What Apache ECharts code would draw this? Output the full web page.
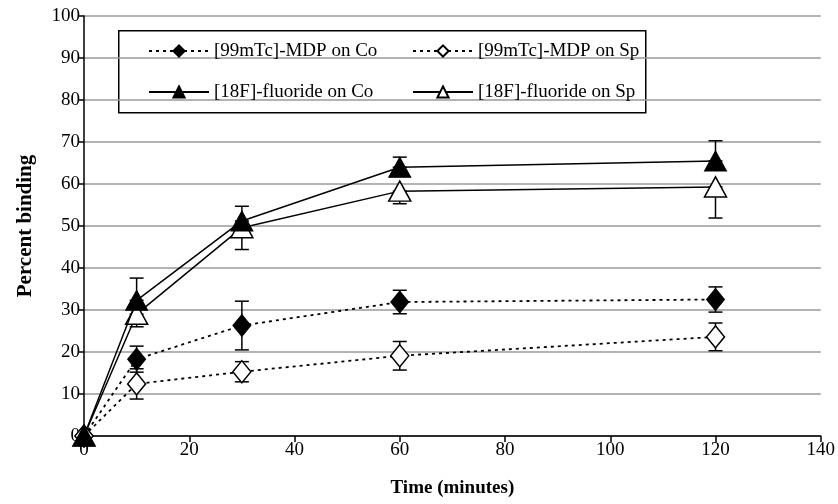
<!DOCTYPE html>
<html>
<head>
<meta charset="utf-8">
<script src="https://cdn.jsdelivr.net/npm/echarts@6/dist/echarts.min.js"></script>
<style>html,body{margin:0;padding:0;background:#fff;}#c{width:838px;height:504px;}</style>
</head>
<body>
<div id="c"></div>
<script>
var times = [0, 10, 30, 60, 120];
var mdpCo = [0, 18.3, 26.3, 31.9, 32.5];
var mdpCoErr = [null, 3.1, 5.8, 2.8, 3.0];
var mdpSp = [0, 12.4, 15.3, 19.1, 23.6];
var mdpSpErr = [null, 3.6, 2.4, 3.4, 3.3];
var fCo = [0, 32.3, 51.2, 64.0, 65.5];
var fCoErrUp = [null, 5.3, 3.5, 2.4, 4.8];
var fSp = [0, 29.0, 49.6, 58.3, 59.3];
var fSpErrDown = [null, 3.0, 5.2, 3.0, 7.4];
var names = ['[99mTc]-MDP on Co', '[99mTc]-MDP on Sp', '[18F]-fluoride on Co', '[18F]-fluoride on Sp'];
var xTicks = [0, 20, 40, 60, 80, 100, 120, 140];
var yTicks = [0, 10, 20, 30, 40, 50, 60, 70, 80, 90, 100];

var FONT = '"Liberation Serif", "DejaVu Serif", serif';

function pts(vals) { return times.map(function (t, i) { return [t, vals[i]]; }); }
function errData(vals, up, down) {
  var out = [];
  times.forEach(function (t, i) {
    var u = up ? up[i] : null, d = down ? down[i] : null;
    if (u == null && d == null) return;
    out.push([t, vals[i] - (d || 0), vals[i] + (u || 0)]);
  });
  return out;
}
function errSeries(data) {
  return {
    type: 'custom', silent: true, z: 1,
    renderItem: function (params, api) {
      var x = api.value(0), lo = api.value(1), hi = api.value(2);
      var pLo = api.coord([x, lo]), pHi = api.coord([x, hi]);
      var w = 7;
      var st = { stroke: '#000', lineWidth: 1.5 };
      return { type: 'group', children: [
        { type: 'line', shape: { x1: pLo[0], y1: pLo[1], x2: pHi[0], y2: pHi[1] }, style: st },
        { type: 'line', shape: { x1: pLo[0] - w, y1: pLo[1], x2: pLo[0] + w, y2: pLo[1] }, style: st },
        { type: 'line', shape: { x1: pHi[0] - w, y1: pHi[1], x2: pHi[0] + w, y2: pHi[1] }, style: st }
      ]};
    },
    encode: { x: 0, y: [1, 2] },
    data: data
  };
}

var legendCommon = {
  orient: 'vertical', top: 36.5, itemGap: 22, itemWidth: 60, itemHeight: 14,
  backgroundColor: 'transparent',
  textStyle: { fontFamily: FONT, fontSize: 19, color: '#000' }
};

var chart = echarts.init(document.getElementById('c'));
chart.setOption({
  animation: false,
  backgroundColor: '#fff',
  grid: { left: 84, right: 12, top: 16, bottom: 68 },
  xAxis: {
    type: 'value', min: 0, max: 140, interval: 20,
    name: 'Time (minutes)', nameLocation: 'middle', nameGap: 43,
    nameTextStyle: { fontFamily: FONT, fontSize: 19, fontWeight: 'bold', color: '#000' },
    axisLine: { lineStyle: { color: '#000', width: 1.5 } },
    axisTick: { show: true, length: 6, lineStyle: { color: '#000', width: 1.5 } },
    axisLabel: { fontFamily: FONT, fontSize: 19, color: '#000', margin: 5,
      formatter: function (v) { return xTicks.indexOf(v) >= 0 ? String(v) : ''; } },
    splitLine: { show: false }
  },
  yAxis: {
    type: 'value', min: 0, max: 100, interval: 10,
    name: 'Percent binding', nameLocation: 'middle', nameGap: 48,
    nameTextStyle: { fontFamily: FONT, fontSize: 21, fontWeight: 'bold', color: '#000' },
    axisLine: { show: true, lineStyle: { color: '#000', width: 1.5 } },
    axisTick: { show: true, length: 6, lineStyle: { color: '#000', width: 1.5 } },
    axisLabel: { fontFamily: FONT, fontSize: 19, color: '#000', margin: 4,
      formatter: function (v) { return yTicks.indexOf(v) >= 0 ? String(v) : ''; } },
    splitLine: { show: true, lineStyle: { color: '#9a9a9a', width: 1.5 } }
  },
  legend: [
    Object.assign({ data: [names[0], names[2]], left: 143 }, legendCommon),
    Object.assign({ data: [names[1], names[3]], left: 407 }, legendCommon)
  ],
  graphic: [
    { type: 'rect', left: 118, top: 30, z: -1, shape: { width: 527, height: 82 },
      style: { fill: '#fff', stroke: '#000', lineWidth: 1.5 } }
  ],
  series: [
    errSeries(errData(mdpCo, mdpCoErr, mdpCoErr)),
    errSeries(errData(mdpSp, mdpSpErr, mdpSpErr)),
    errSeries(errData(fCo, fCoErrUp, null)),
    errSeries(errData(fSp, null, fSpErrDown)),
    { name: names[0], type: 'line', data: pts(mdpCo), z: 3,
      symbol: 'diamond', symbolSize: [18, 22],
      lineStyle: { color: '#000', width: 1.8, type: [3, 4] },
      itemStyle: { color: '#000', borderColor: '#000', borderWidth: 1 } },
    { name: names[1], type: 'line', data: pts(mdpSp), z: 3,
      symbol: 'diamond', symbolSize: [18, 22],
      lineStyle: { color: '#000', width: 1.8, type: [3, 4] },
      itemStyle: { color: '#fff', borderColor: '#000', borderWidth: 1.5 } },
    { name: names[3], type: 'line', data: pts(fSp), z: 3,
      symbol: 'triangle', symbolSize: [22, 20],
      lineStyle: { color: '#000', width: 1.5 },
      itemStyle: { color: '#fff', borderColor: '#000', borderWidth: 1.5 } },
    { name: names[2], type: 'line', data: pts(fCo), z: 4,
      symbol: 'triangle', symbolSize: [22, 20],
      lineStyle: { color: '#000', width: 1.5 },
      itemStyle: { color: '#000', borderColor: '#000', borderWidth: 1 } }
  ]
});
</script>
</body>
</html>
